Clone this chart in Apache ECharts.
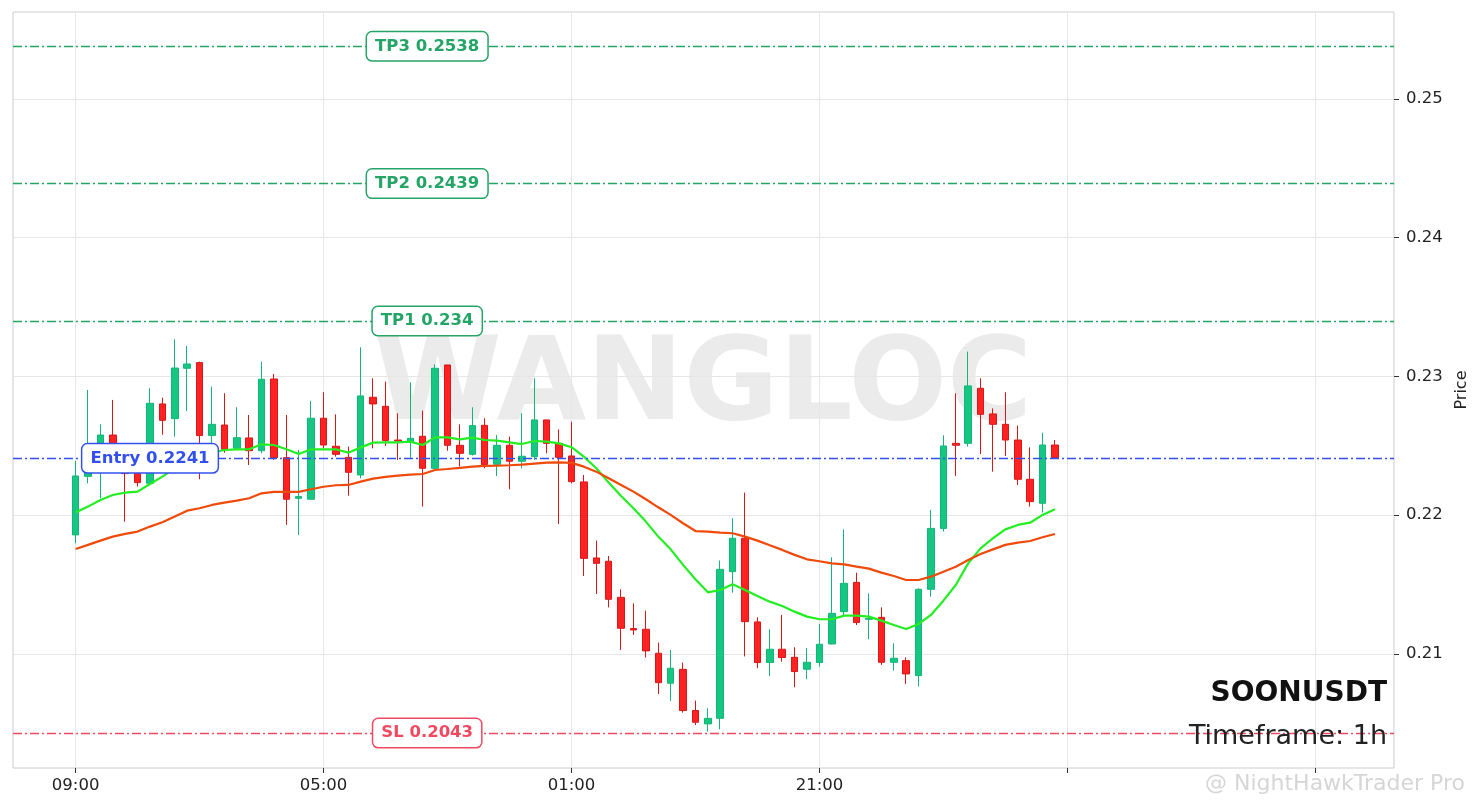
<!DOCTYPE html>
<html><head><meta charset="utf-8">
<script src="https://cdn.jsdelivr.net/npm/echarts@6/dist/echarts.min.js"></script>
<style>html,body{margin:0;padding:0;background:#fff}#c{width:1479px;height:808px}</style>
</head><body><div id="c"></div>
<script>
// ---- data ----
const opens = [0.21858,0.22280,0.22326,0.22578,0.22410,0.22302,0.22230,0.22802,0.22696,0.23059,
0.23100,0.22574,0.22650,0.22482,0.22557,0.22465,0.22982,0.22415,0.22122,0.22115,
0.22699,0.22497,0.22417,0.22290,0.22850,0.22785,0.22542,0.22530,0.22569,0.22338,
0.23083,0.22504,0.22439,0.22648,0.22367,0.22504,0.22389,0.22422,0.22687,0.22518,
0.22427,0.22240,0.21692,0.21668,0.21408,0.21183,0.21178,0.21005,0.20789,0.20889,
0.20592,0.20496,0.20536,0.21593,0.21834,0.21231,0.20938,0.21034,0.20976,0.20890,
0.20938,0.21072,0.21305,0.21516,0.21250,0.21264,0.20940,0.20952,0.20844,0.21466,
0.21905,0.22518,0.22518,0.22915,0.22730,0.22655,0.22542,0.22259,0.22086,0.22506];
const closes = [0.22283,0.22320,0.22578,0.22420,0.22300,0.22235,0.22807,0.22684,0.23061,0.23090,
0.22574,0.22655,0.22475,0.22559,0.22465,0.22980,0.22415,0.22115,0.22134,0.22699,
0.22506,0.22439,0.22309,0.22860,0.22802,0.22538,0.22535,0.22554,0.22338,0.23059,
0.22504,0.22446,0.22646,0.22365,0.22504,0.22389,0.22425,0.22687,0.22518,0.22417,
0.22242,0.21689,0.21653,0.21394,0.21185,0.21173,0.21022,0.20793,0.20897,0.20592,
0.20508,0.20536,0.21610,0.21834,0.21233,0.20938,0.21034,0.20974,0.20873,0.20940,
0.21070,0.21293,0.21509,0.21226,0.21257,0.20940,0.20969,0.20856,0.21466,0.21905,
0.22499,0.22504,0.22932,0.22727,0.22655,0.22542,0.22259,0.22098,0.22506,0.22415];
const lows = [0.21798,0.22230,0.22122,0.22380,0.21954,0.22206,0.22220,0.22580,0.22566,0.22751,
0.22259,0.22518,0.22450,0.22482,0.22362,0.22446,0.22398,0.21930,0.21858,0.22115,
0.22482,0.22422,0.22141,0.22266,0.22482,0.22499,0.22398,0.22410,0.22062,0.22330,
0.22465,0.22350,0.22430,0.22338,0.22283,0.22187,0.22338,0.22398,0.22446,0.21937,
0.22230,0.21562,0.21432,0.21336,0.21029,0.21137,0.20974,0.20712,0.20661,0.20577,
0.20488,0.20440,0.20457,0.21442,0.20982,0.20897,0.20841,0.20945,0.20760,0.20818,
0.20909,0.21070,0.21281,0.21209,0.21106,0.20921,0.20880,0.20784,0.20765,0.21413,
0.21882,0.22283,0.22494,0.22441,0.22314,0.22427,0.22218,0.22062,0.22019,0.22410];
const highs = [0.22391,0.22903,0.22655,0.22831,0.22518,0.22330,0.22915,0.22847,0.23268,0.23220,
0.23107,0.22927,0.22879,0.22778,0.22722,0.23107,0.23018,0.22722,0.22470,0.22823,
0.22886,0.22727,0.22494,0.23210,0.22987,0.22963,0.22735,0.22958,0.22754,0.23088,
0.23083,0.22655,0.22778,0.22699,0.22578,0.22566,0.22735,0.22987,0.22687,0.22619,
0.22674,0.22290,0.21817,0.21706,0.21466,0.21365,0.21312,0.21082,0.21029,0.20938,
0.20664,0.20608,0.21673,0.21978,0.22163,0.21264,0.21178,0.21281,0.21048,0.21043,
0.21216,0.21697,0.21898,0.21586,0.21437,0.21336,0.21077,0.20976,0.21473,0.22038,
0.22576,0.22879,0.23179,0.22987,0.22770,0.22886,0.22646,0.22489,0.22595,0.22542];
const emaFast = [0.22019,0.22062,0.22110,0.22146,0.22163,0.22170,0.22225,0.22278,0.22338,0.22386,
0.22422,0.22451,0.22470,0.22475,0.22475,0.22511,0.22506,0.22475,0.22441,0.22475,
0.22474,0.22475,0.22451,0.22489,0.22523,0.22525,0.22525,0.22530,0.22506,0.22561,
0.22561,0.22547,0.22559,0.22542,0.22537,0.22525,0.22513,0.22535,0.22530,0.22518,
0.22490,0.22422,0.22338,0.22235,0.22139,0.22050,0.21954,0.21846,0.21754,0.21642,
0.21538,0.21444,0.21461,0.21502,0.21461,0.21418,0.21377,0.21346,0.21305,0.21269,
0.21250,0.21250,0.21276,0.21276,0.21269,0.21240,0.21209,0.21180,0.21216,0.21281,
0.21384,0.21497,0.21653,0.21761,0.21834,0.21898,0.21930,0.21946,0.22002,0.22043];
const emaSlow = [0.21757,0.21786,0.21817,0.21846,0.21865,0.21882,0.21918,0.21949,0.21990,0.22033,
0.22050,0.22074,0.22091,0.22105,0.22122,0.22158,0.22168,0.22168,0.22168,0.22187,
0.22205,0.22216,0.22218,0.22242,0.22264,0.22276,0.22285,0.22292,0.22297,0.22326,
0.22333,0.22341,0.22350,0.22355,0.22357,0.22360,0.22365,0.22372,0.22379,0.22381,
0.22377,0.22350,0.22314,0.22266,0.22218,0.22170,0.22115,0.22057,0.22002,0.21942,
0.21886,0.21882,0.21874,0.21870,0.21846,0.21817,0.21783,0.21750,0.21714,0.21682,
0.21668,0.21653,0.21646,0.21629,0.21615,0.21586,0.21562,0.21533,0.21533,0.21557,
0.21593,0.21629,0.21677,0.21721,0.21754,0.21786,0.21802,0.21814,0.21841,0.21865];
const xTickIdx = [0,20,40,60,80,100];
const xLabelIdx = [0,20,40,60];
const xLabels = ['09:00','05:00','01:00','21:00'];
const yTicks = [0.21,0.22,0.23,0.24,0.25];
const levelNames = ['TP3','TP2','TP1','Entry','SL'];
const levelValues = [0.2538,0.2439,0.234,0.2241,0.2043];
const levelColors = ['#24a466','#24a466','#24a466','#3350ee','#f04a62'];
const levelLabelX = [28.36,28.36,28.36,6.0,28.36];
const symbol = 'SOONUSDT';
const timeframe = 'Timeframe: 1h';

// ---- build ----
const candleData = opens.map((o,i)=>[i,o,closes[i],lows[i],highs[i]]);
const fastData = emaFast.map((v,i)=>[i,v]);
const slowData = emaSlow.map((v,i)=>[i,v]);
const FONT = 'DejaVu Sans';

const chart = echarts.init(document.getElementById('c'), null, {renderer:'canvas'});
chart.setOption({
  animation:false,
  backgroundColor:'#ffffff',
  textStyle:{fontFamily:FONT},
  grid:{left:13,right:85,top:12,bottom:40,show:true,borderColor:'#cccccc',borderWidth:1,
        backgroundColor:'transparent',containLabel:false,outerBoundsMode:'none'},
  xAxis:{type:'value',min:-5.05,max:106.35,position:'bottom',
    axisLine:{show:false,onZero:false},
    axisTick:{show:true,customValues:xTickIdx,length:5,lineStyle:{color:'#333',width:1}},
    axisLabel:{show:true,customValues:xLabelIdx,margin:9,fontSize:16.5,color:'#222',fontFamily:FONT,
      formatter:(v)=>{const k=xLabelIdx.indexOf(Math.round(v));return k>=0?xLabels[k]:'';}},
    splitLine:{show:true,lineStyle:{color:'#e6e6e6',width:1}}},
  yAxis:{type:'value',position:'right',min:0.20178,max:0.25627,scale:true,
    axisLine:{show:false,onZero:false},
    axisTick:{show:true,customValues:yTicks,length:5,lineStyle:{color:'#333',width:1}},
    axisLabel:{show:true,customValues:yTicks,margin:12,fontSize:16.5,color:'#222',fontFamily:FONT,
      formatter:(v)=>String(Math.round(v*100)/100)},
    splitLine:{show:true,lineStyle:{color:'#e6e6e6',width:1}},
    name:'Price',nameLocation:'middle',nameGap:58,nameRotate:90,
    nameTextStyle:{fontSize:16,color:'#222',fontFamily:FONT}},
  graphic:[
    {type:'text',z:-1,silent:true,style:{text:'WANGLOC',x:703,y:389,textAlign:'center',textVerticalAlign:'middle',
      fontSize:116,fontWeight:'bold',fontFamily:FONT,fill:'#ebebeb'}},
    {type:'text',z:50,silent:true,style:{text:symbol,x:1387,y:694,textAlign:'right',textVerticalAlign:'middle',
      fontSize:28,fontWeight:'bold',fontFamily:FONT,fill:'#111'}},
    {type:'text',z:50,silent:true,style:{text:timeframe,x:1387,y:737,textAlign:'right',textVerticalAlign:'middle',
      fontSize:27,fontFamily:FONT,fill:'#222'}},
    {type:'text',z:50,silent:true,style:{text:'@ NightHawkTrader Pro',x:1205,y:784,textAlign:'left',textVerticalAlign:'middle',
      fontSize:22,fontFamily:FONT,fill:'#d6d6d6'}}
  ],
  series:[
    {type:'candlestick',data:candleData,encode:{x:0,y:[1,2,3,4]},barWidth:7,z:2,
      itemStyle:{color:'#16c784',color0:'#ff2222',borderColor:'#12b677',borderColor0:'#d81818',borderWidth:1}},
    {type:'line',data:fastData,showSymbol:false,symbol:'none',z:4,
      lineStyle:{color:'#22ee22',width:2.2}},
    {type:'line',data:slowData,showSymbol:false,symbol:'none',z:4,
      lineStyle:{color:'#f04a0a',width:2.2}},
    {type:'line',data:[],z:5,
      markLine:{silent:true,precision:6,symbol:['none','none'],label:{show:false},
        data:levelValues.map((v,i)=>({yAxis:v,lineStyle:{color:levelColors[i],width:1.4,type:[9,3,2,3]}}))},
      markPoint:{silent:true,symbol:'circle',symbolSize:1,itemStyle:{color:'rgba(0,0,0,0)'},
        data:levelValues.map((v,i)=>({coord:[levelLabelX[i],v],name:levelNames[i]+' '+v,
          label:{show:true,position:'inside',formatter:'{b}',color:levelColors[i],fontWeight:'bold',fontSize:16.5,
            fontFamily:FONT,backgroundColor:'#ffffff',borderColor:levelColors[i],borderWidth:1.5,borderRadius:5,
            padding:[6,8,5,8]}}))}}
  ]
});
</script></body></html>
